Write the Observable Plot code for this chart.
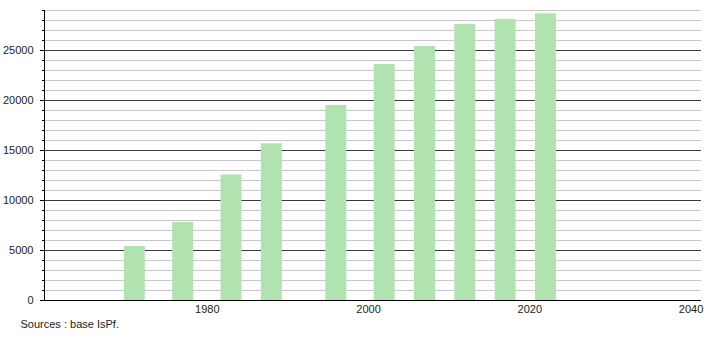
<!DOCTYPE html>
<html>
<head>
<meta charset="utf-8">
<script src="https://cdn.jsdelivr.net/npm/d3@7"></script>
<script src="https://cdn.jsdelivr.net/npm/@observablehq/plot@0.6"></script>
<style>
  html, body { margin: 0; padding: 0; background: #fff; }
  #chart svg { display: block; }
</style>
</head>
<body>
<div id="chart"></div>
<script>
const years = [1971, 1977, 1983, 1988, 1996, 2002, 2007, 2012, 2017, 2022];
const population = [5400, 7800, 12550, 15670, 19500, 23600, 25400, 27600, 28100, 28670];
const xTicks = [1980, 2000, 2020, 2040];
const yMajorTicks = [0, 5000, 10000, 15000, 20000, 25000];
const yMinorTicks = d3.range(0, 29001, 1000);
const caption = "Sources : base IsPf.";

const data = years.map((y, i) => ({year: y, pop: population[i]}));
const halfWidth = 1.3;

const chart = Plot.plot({
  width: 710,
  height: 340,
  marginLeft: 44,
  marginRight: 9,
  marginTop: 10,
  marginBottom: 40,
  style: {fontFamily: "'Liberation Sans', Arial, sans-serif", fontSize: "11px", color: "#222", background: "#fff"},
  x: {domain: [1959.8, 2041.3], label: null},
  y: {domain: [0, 29000], label: null},
  marks: [
    Plot.gridY(yMinorTicks, {stroke: "#c8c8c8", strokeOpacity: 1}),
    Plot.gridY(yMajorTicks.filter(d => d > 0), {stroke: "#3a3a3a", strokeOpacity: 1}),
    Plot.rectY(data, {x1: d => d.year - halfWidth, x2: d => d.year + halfWidth, y: "pop", fill: "#b0e3b0"}),
    Plot.axisY(yMinorTicks, {tickSize: 2, text: null, label: null, stroke: "#000"}),
    Plot.axisY(yMajorTicks, {tickSize: 4, tickPadding: 7, tickFormat: "d", label: null, stroke: "#000", fill: "#222"}),
    Plot.ruleX([1959.8], {y1: 0, y2: 29000, stroke: "#000"}),
    Plot.ruleY([0], {stroke: "#000"}),
    Plot.axisX(xTicks, {tickSize: 0, tickPadding: 5, tickFormat: "d", label: null, fill: "#222"}),
    Plot.text([caption], {frameAnchor: "bottom-left", dx: -24, dy: 27, text: d => d, textAnchor: "start", fill: "#222"})
  ]
});
document.getElementById("chart").appendChild(chart);
</script>
</body>
</html>
